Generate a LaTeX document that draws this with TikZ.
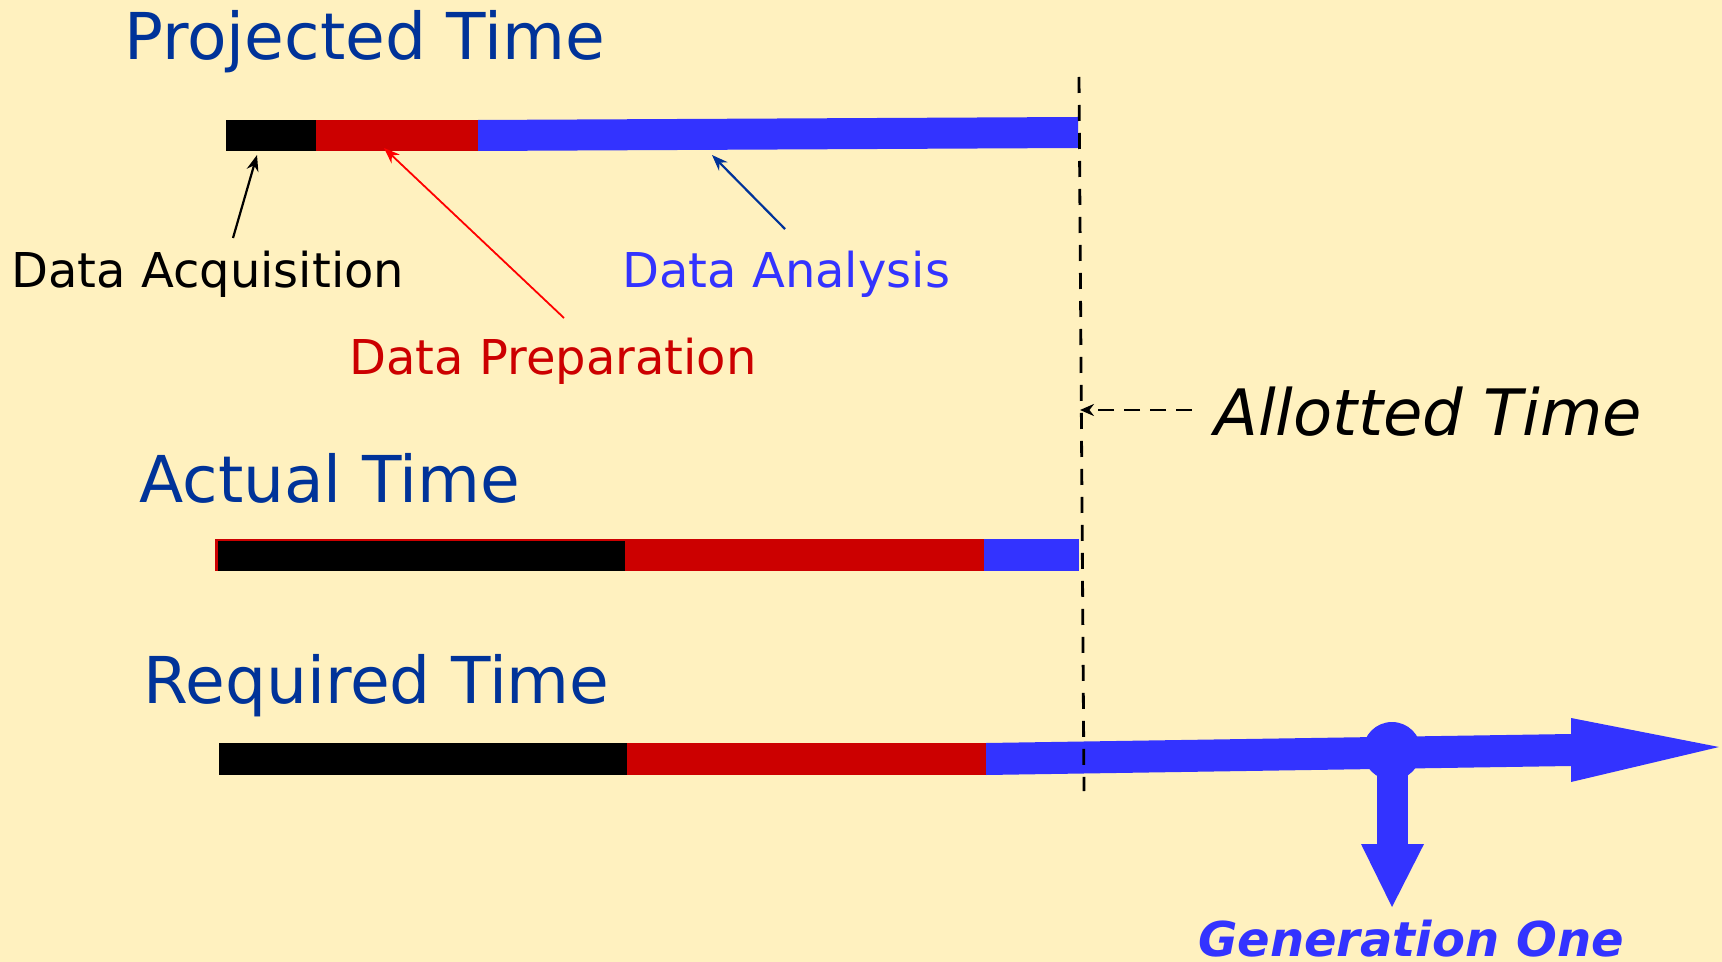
\documentclass[tikz,border=0pt]{standalone}
\usepackage{fontspec}
\setmainfont{DejaVu Sans}
\usetikzlibrary{arrows.meta}
\definecolor{paper}{RGB}{255,241,191}
\definecolor{titleblue}{RGB}{0,51,153}
\definecolor{barred}{RGB}{204,0,0}
\definecolor{barblue}{RGB}{51,51,255}
\definecolor{darkarrow}{RGB}{0,51,153}
\tikzset{
  title/.style={anchor=base west,inner sep=0pt,text=titleblue,font=\fontsize{32.3}{38}\selectfont},
  label/.style={anchor=base west,inner sep=0pt,font=\fontsize{24}{29}\selectfont},
  pointer/.style={line width=1.1pt,-{Stealth[length=8pt,width=6pt]}},
  limit/.style={line width=1.4pt,dash pattern=on 8pt off 6pt},
}
\begin{document}
\begin{tikzpicture}[x=0.5pt,y=-0.5pt]
\useasboundingbox (0,0) rectangle (1722,962);
\fill[paper] (0,0) rectangle (1722,962);

% ---- projected schedule ----
\node[title] (proj) at (124,60) {Projected Time};
\fill[black] (226,120) rectangle (316,151);
\fill[barred] (316,120) rectangle (478,151);
\fill[barblue] (478,120) -- (1078,117) -- (1078,148) -- (478,151) -- cycle;
\coordinate (acqTip) at (257,155);
\coordinate (prepTip) at (384,148);
\coordinate (anaTip) at (712,155);

\node[label,text=black] (acq) at (11,288) {Data Acquisition};
\node[label,text=barblue] (ana) at (622,288) {Data Analysis};
\node[label,text=barred] (prep) at (349,374) {Data Preparation};
\coordinate (acqTail) at (233,238);
\coordinate (prepTail) at (564,318);
\coordinate (anaTail) at (785,229);
\draw[pointer,black] (acqTail) -- (acqTip);
\draw[pointer,red,line width=0.9pt] (prepTail) -- (prepTip);
\draw[pointer,darkarrow] (anaTail) -- (anaTip);

% ---- actual schedule ----
\node[title] (act) at (139,502) {Actual Time};
\fill[barred] (215,539) rectangle (984,571);
\fill[black] (218,541) rectangle (625,571);
\fill[barblue] (984,539) rectangle (1079,571);

% ---- required schedule ----
\node[title] (req) at (143,703) {Required Time};
\fill[black] (219,743) rectangle (627,775);
\fill[barred] (627,743) rectangle (986,775);
\fill[barblue] (986,743) -- (1571,734) -- (1571,718) -- (1719,747)
  -- (1571,782) -- (1571,766) -- (986,775) -- cycle;
\node[circle,fill=barblue,inner sep=0pt,minimum size=29pt] (gen) at (1392,751) {};
\fill[barblue] (1377,751) rectangle (1408,845);
\fill[barblue] (1361,844) -- (1424,844) -- (1392,907) -- cycle;
\node[anchor=base,inner sep=0pt,text=barblue,font=\fontsize{24}{29}\bfseries\itshape\selectfont] (genlabel) at (1411,956) {Generation One};

% ---- allotted time limit ----
\coordinate (limTop) at (1079,77);
\coordinate (limBot) at (1084,791);
\draw[limit] (limTop) -- (limBot);
\node[anchor=base west,inner sep=0pt,font=\fontsize{32}{38}\itshape\selectfont] (allot) at (1214,435) {Allotted Time};
\coordinate (allotTip) at (1080,410);
\draw[line width=1.4pt,dash pattern=on 8pt off 5pt,-{Stealth[length=7pt,width=6pt]}] (1192,410) -- (allotTip);
\end{tikzpicture}
\end{document}
